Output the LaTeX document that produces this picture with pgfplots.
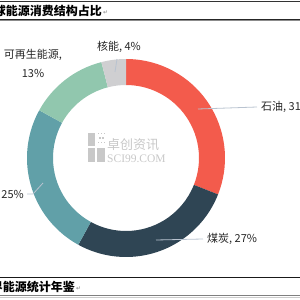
\documentclass[border=0pt]{standalone}
\usepackage{pgfplots}
\pgfplotsset{compat=1.18}
\usepackage{pgfplotstable}
\usepackage{fontspec}
\setmainfont{Noto Sans CJK SC}
\newfontfamily\wmfont{Liberation Serif}
\newfontfamily\symfont{DejaVu Sans}
\definecolor{c0}{HTML}{F35B4C}
\definecolor{c1}{HTML}{2F4554}
\definecolor{c2}{HTML}{61A0A8}
\definecolor{c3}{HTML}{91C7AE}
\definecolor{c4}{HTML}{CFCFD1}
\definecolor{leader}{HTML}{B9C3D0}
\definecolor{wm}{HTML}{C8C8C8}
\pgfplotstableread{
key value
oil 31
coal 27
gas 25
renew 13
nuclear 4
}\energy
\begin{document}
\begin{tikzpicture}
\begin{axis}[at={(0,0)}, anchor=south west, scale only axis,
  width=300bp, height=300bp, xmin=0, xmax=300, ymin=0, ymax=300,
  hide axis, clip=false]
\def\cum{0}
\pgfplotsforeachungrouped \i in {0,...,4}{%
  \pgfplotstablegetelem{\i}{value}\of\energy
  \let\val\pgfplotsretval
  \pgfmathsetmacro\aA{90-3.6*\cum}%
  \pgfmathsetmacro\cum{\cum+\val}%
  \pgfmathsetmacro\aB{90-3.6*\cum}%
  \edef\temp{\noexpand\fill[c\i] (axis cs:126,142) ++(\aA:99bp) arc[start angle=\aA, end angle=\aB, radius=99bp] -- ++(\aB:-26bp) arc[start angle=\aB, end angle=\aA, radius=73bp] -- cycle;}%
  \temp
}
% watermark
\fill[wm] (axis cs:88,167) rectangle (axis cs:95,154);
\fill[wm] (axis cs:88,152) rectangle (axis cs:95,138);
\fill[wm] (axis cs:97,152) rectangle (axis cs:105,138);
\fill[wm] (axis cs:97.5,165.5) rectangle (axis cs:99.1,167.1);
\fill[wm] (axis cs:100.5,165.5) rectangle (axis cs:102.1,167.1);
\fill[wm] (axis cs:103.5,165.5) rectangle (axis cs:105.1,167.1);
\fill[wm] (axis cs:99,161) rectangle (axis cs:100.6,162.6);
\fill[wm] (axis cs:102,161) rectangle (axis cs:103.6,162.6);
\fill[wm] (axis cs:97.5,156.5) rectangle (axis cs:99.1,158.1);
\fill[wm] (axis cs:100.5,156.5) rectangle (axis cs:102.1,158.1);
\fill[wm] (axis cs:103.5,156.5) rectangle (axis cs:105.1,158.1);
\node[wm, anchor=west, font=\fontsize{13bp}{15bp}\selectfont, inner sep=0] at (axis cs:107,155.5) {卓创资讯};
\node[wm, anchor=west, font=\wmfont\fontsize{11.5bp}{13bp}\selectfont, inner sep=0] at (axis cs:107,141) {SCI99.COM};
% leader lines
\draw[leader, line width=0.8bp] (axis cs:198,191) -- (axis cs:257,193);
\draw[leader, line width=0.8bp] (axis cs:156,60) -- (axis cs:203,61);
\draw[leader, line width=0.8bp] (axis cs:43,117) -- (axis cs:33,106) -- (axis cs:27,106);
\draw[leader, line width=0.8bp] (axis cs:115,228) -- (axis cs:117,241);
% labels
\tikzset{lab/.style={black!85, inner sep=0, font=\fontsize{11bp}{13bp}\selectfont}}
\node[lab, anchor=west] at (axis cs:261,193) {石油, 31\%};
\node[lab, anchor=west] at (axis cs:207,61) {煤炭, 27\%};
\node[lab, anchor=east] at (axis cs:24,105) {天然气, 25\%};
\node[lab] at (axis cs:119,253) {核能, 4\%};
\node[lab] at (axis cs:33,245) {可再生能源,};
\node[lab] at (axis cs:33,227) {13\%};
% header / footer rules
\draw[black!80, line width=0.7bp] (axis cs:0,298.5) -- (axis cs:300,298.5);
\draw[black!85, line width=0.9bp] (axis cs:0,280.3) -- (axis cs:300,280.3);
\draw[black!45, line width=1bp] (axis cs:0,279) -- (axis cs:300,279);
\node[black, anchor=east, inner sep=0, font=\bfseries\fontsize{12bp}{14bp}\selectfont] at (axis cs:102,289) {全球能源消费结构占比};
\node[black!50, anchor=west, inner sep=0, font=\symfont\fontsize{6bp}{7bp}\selectfont] at (axis cs:103,287) {↵};
\draw[black!90, line width=0.9bp] (axis cs:0,23) -- (axis cs:300,23);
\node[black, anchor=east, inner sep=0, font=\bfseries\fontsize{12bp}{14bp}\selectfont] at (axis cs:75,13) {世界能源统计年鉴};
\node[black!50, anchor=west, inner sep=0, font=\symfont\fontsize{6bp}{7bp}\selectfont] at (axis cs:76,11) {↵};
\draw[black!50, line width=1.6bp] (axis cs:0,4.5) -- (axis cs:300,4.5);
\draw[black!20, line width=0.6bp] (axis cs:0,3) -- (axis cs:300,3);
\end{axis}
\pgfresetboundingbox
\useasboundingbox (0,0) rectangle (300bp,300bp);
\end{tikzpicture}
\end{document}
